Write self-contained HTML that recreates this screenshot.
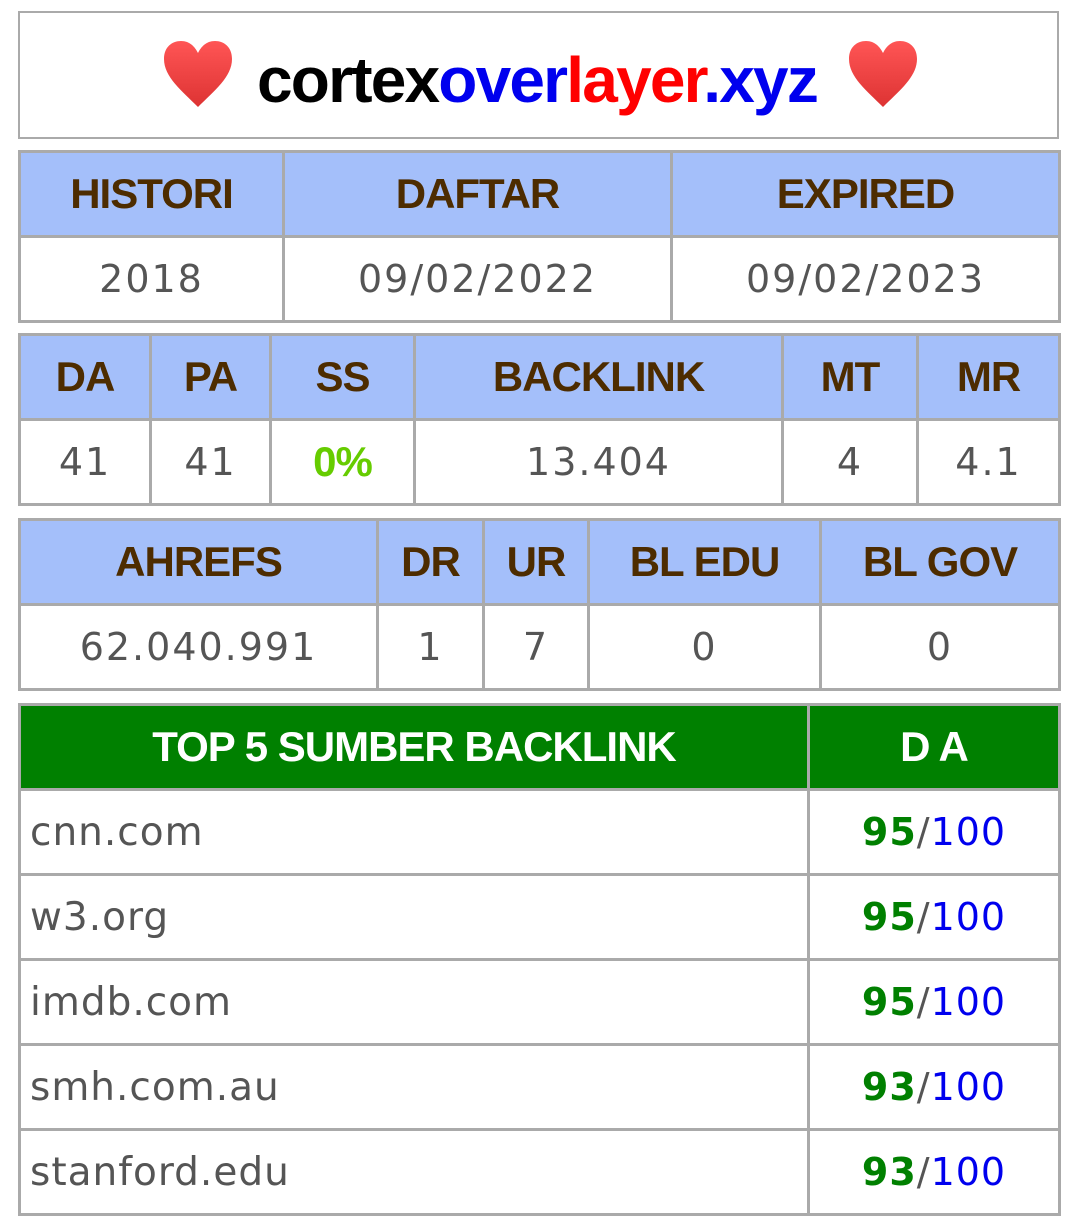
<!DOCTYPE html>
<html><head><meta charset="utf-8">
<style>
body{margin:0;background:#fff;width:1077px;height:1223px;position:relative;overflow:hidden;font-family:"DejaVu Sans","Liberation Sans",sans-serif;}
.title{position:absolute;left:18px;top:11px;width:1037px;height:124px;border:2px solid #aaa;}
.title .txt{position:absolute;left:237px;top:30px;font-family:"Liberation Sans",sans-serif;font-weight:bold;font-size:64px;line-height:74px;letter-spacing:-1.8px;white-space:nowrap;}
.heart{position:absolute;top:28px;width:72px;height:66px;}
table{position:absolute;left:18px;width:1040px;border-collapse:collapse;table-layout:fixed;}
td{border:3px solid #aaa;text-align:center;padding:0;overflow:hidden;white-space:nowrap;}
td.h{background:#a4bffa;color:#4d2c00;font-family:"Liberation Sans",sans-serif;font-weight:bold;font-size:42px;letter-spacing:-1px;height:82px;}
td.d{color:#555;font-size:38px;letter-spacing:2px;height:82px;}
td.g{background:#008000;color:#fff;font-family:"Liberation Sans",sans-serif;font-weight:bold;font-size:42px;letter-spacing:-1px;height:82px;}
td.l{text-align:left;padding-left:9px;color:#555;font-size:39px;height:82px;letter-spacing:1px;}
.gr{color:#008000;font-weight:bold;}
.bl{color:#0000ee;}
</style></head><body>
<div class="title">
<svg class="heart" style="left:142px" viewBox="0 0 72 66"><defs><linearGradient id="hg" x1="0" y1="0" x2="0" y2="1"><stop offset="0" stop-color="#ff5555"/><stop offset="1" stop-color="#dd3333"/></linearGradient></defs><path d="M36 66 C20 50 2 36 2 18 C2 6 10 0 19 0 C28 0 33 6 36 12 C39 6 44 0 53 0 C62 0 70 6 70 18 C70 36 52 50 36 66Z" fill="url(#hg)"/></svg>
<div class="txt"><span style="color:#000">cortex</span><span style="color:#0000ee">over</span><span style="color:#ff0000">layer</span><span style="color:#0000ee">.xyz</span></div>
<svg class="heart" style="left:827px" viewBox="0 0 72 66"><path d="M36 66 C20 50 2 36 2 18 C2 6 10 0 19 0 C28 0 33 6 36 12 C39 6 44 0 53 0 C62 0 70 6 70 18 C70 36 52 50 36 66Z" fill="url(#hg)"/></svg>
</div>

<table style="top:150px">
<colgroup><col style="width:264px"><col style="width:388px"><col style="width:388px"></colgroup>
<tr><td class="h">HISTORI</td><td class="h">DAFTAR</td><td class="h">EXPIRED</td></tr>
<tr><td class="d">2018</td><td class="d">09/02/2022</td><td class="d">09/02/2023</td></tr>
</table>

<table style="top:333px">
<colgroup><col style="width:131px"><col style="width:120px"><col style="width:144px"><col style="width:368px"><col style="width:135px"><col style="width:142px"></colgroup>
<tr><td class="h">DA</td><td class="h">PA</td><td class="h">SS</td><td class="h">BACKLINK</td><td class="h">MT</td><td class="h">MR</td></tr>
<tr><td class="d">41</td><td class="d">41</td><td class="d" style="color:#66cc00;font-family:'Liberation Sans',sans-serif;font-weight:bold;letter-spacing:-1px;font-size:42px">0%</td><td class="d">13.404</td><td class="d">4</td><td class="d">4.1</td></tr>
</table>

<table style="top:518px">
<colgroup><col style="width:358px"><col style="width:106px"><col style="width:105px"><col style="width:232px"><col style="width:239px"></colgroup>
<tr><td class="h">AHREFS</td><td class="h">DR</td><td class="h">UR</td><td class="h">BL EDU</td><td class="h">BL GOV</td></tr>
<tr><td class="d">62.040.991</td><td class="d">1</td><td class="d">7</td><td class="d">0</td><td class="d">0</td></tr>
</table>

<table style="top:703px">
<colgroup><col style="width:789px"><col style="width:251px"></colgroup>
<tr><td class="g">TOP 5 SUMBER BACKLINK</td><td class="g">D A</td></tr>
<tr><td class="l">cnn.com</td><td class="d" style="letter-spacing:1px"><span class="gr">95</span>/<span class="bl">100</span></td></tr>
<tr><td class="l">w3.org</td><td class="d" style="letter-spacing:1px"><span class="gr">95</span>/<span class="bl">100</span></td></tr>
<tr><td class="l">imdb.com</td><td class="d" style="letter-spacing:1px"><span class="gr">95</span>/<span class="bl">100</span></td></tr>
<tr><td class="l">smh.com.au</td><td class="d" style="letter-spacing:1px"><span class="gr">93</span>/<span class="bl">100</span></td></tr>
<tr><td class="l">stanford.edu</td><td class="d" style="letter-spacing:1px"><span class="gr">93</span>/<span class="bl">100</span></td></tr>
</table>
</body></html>
